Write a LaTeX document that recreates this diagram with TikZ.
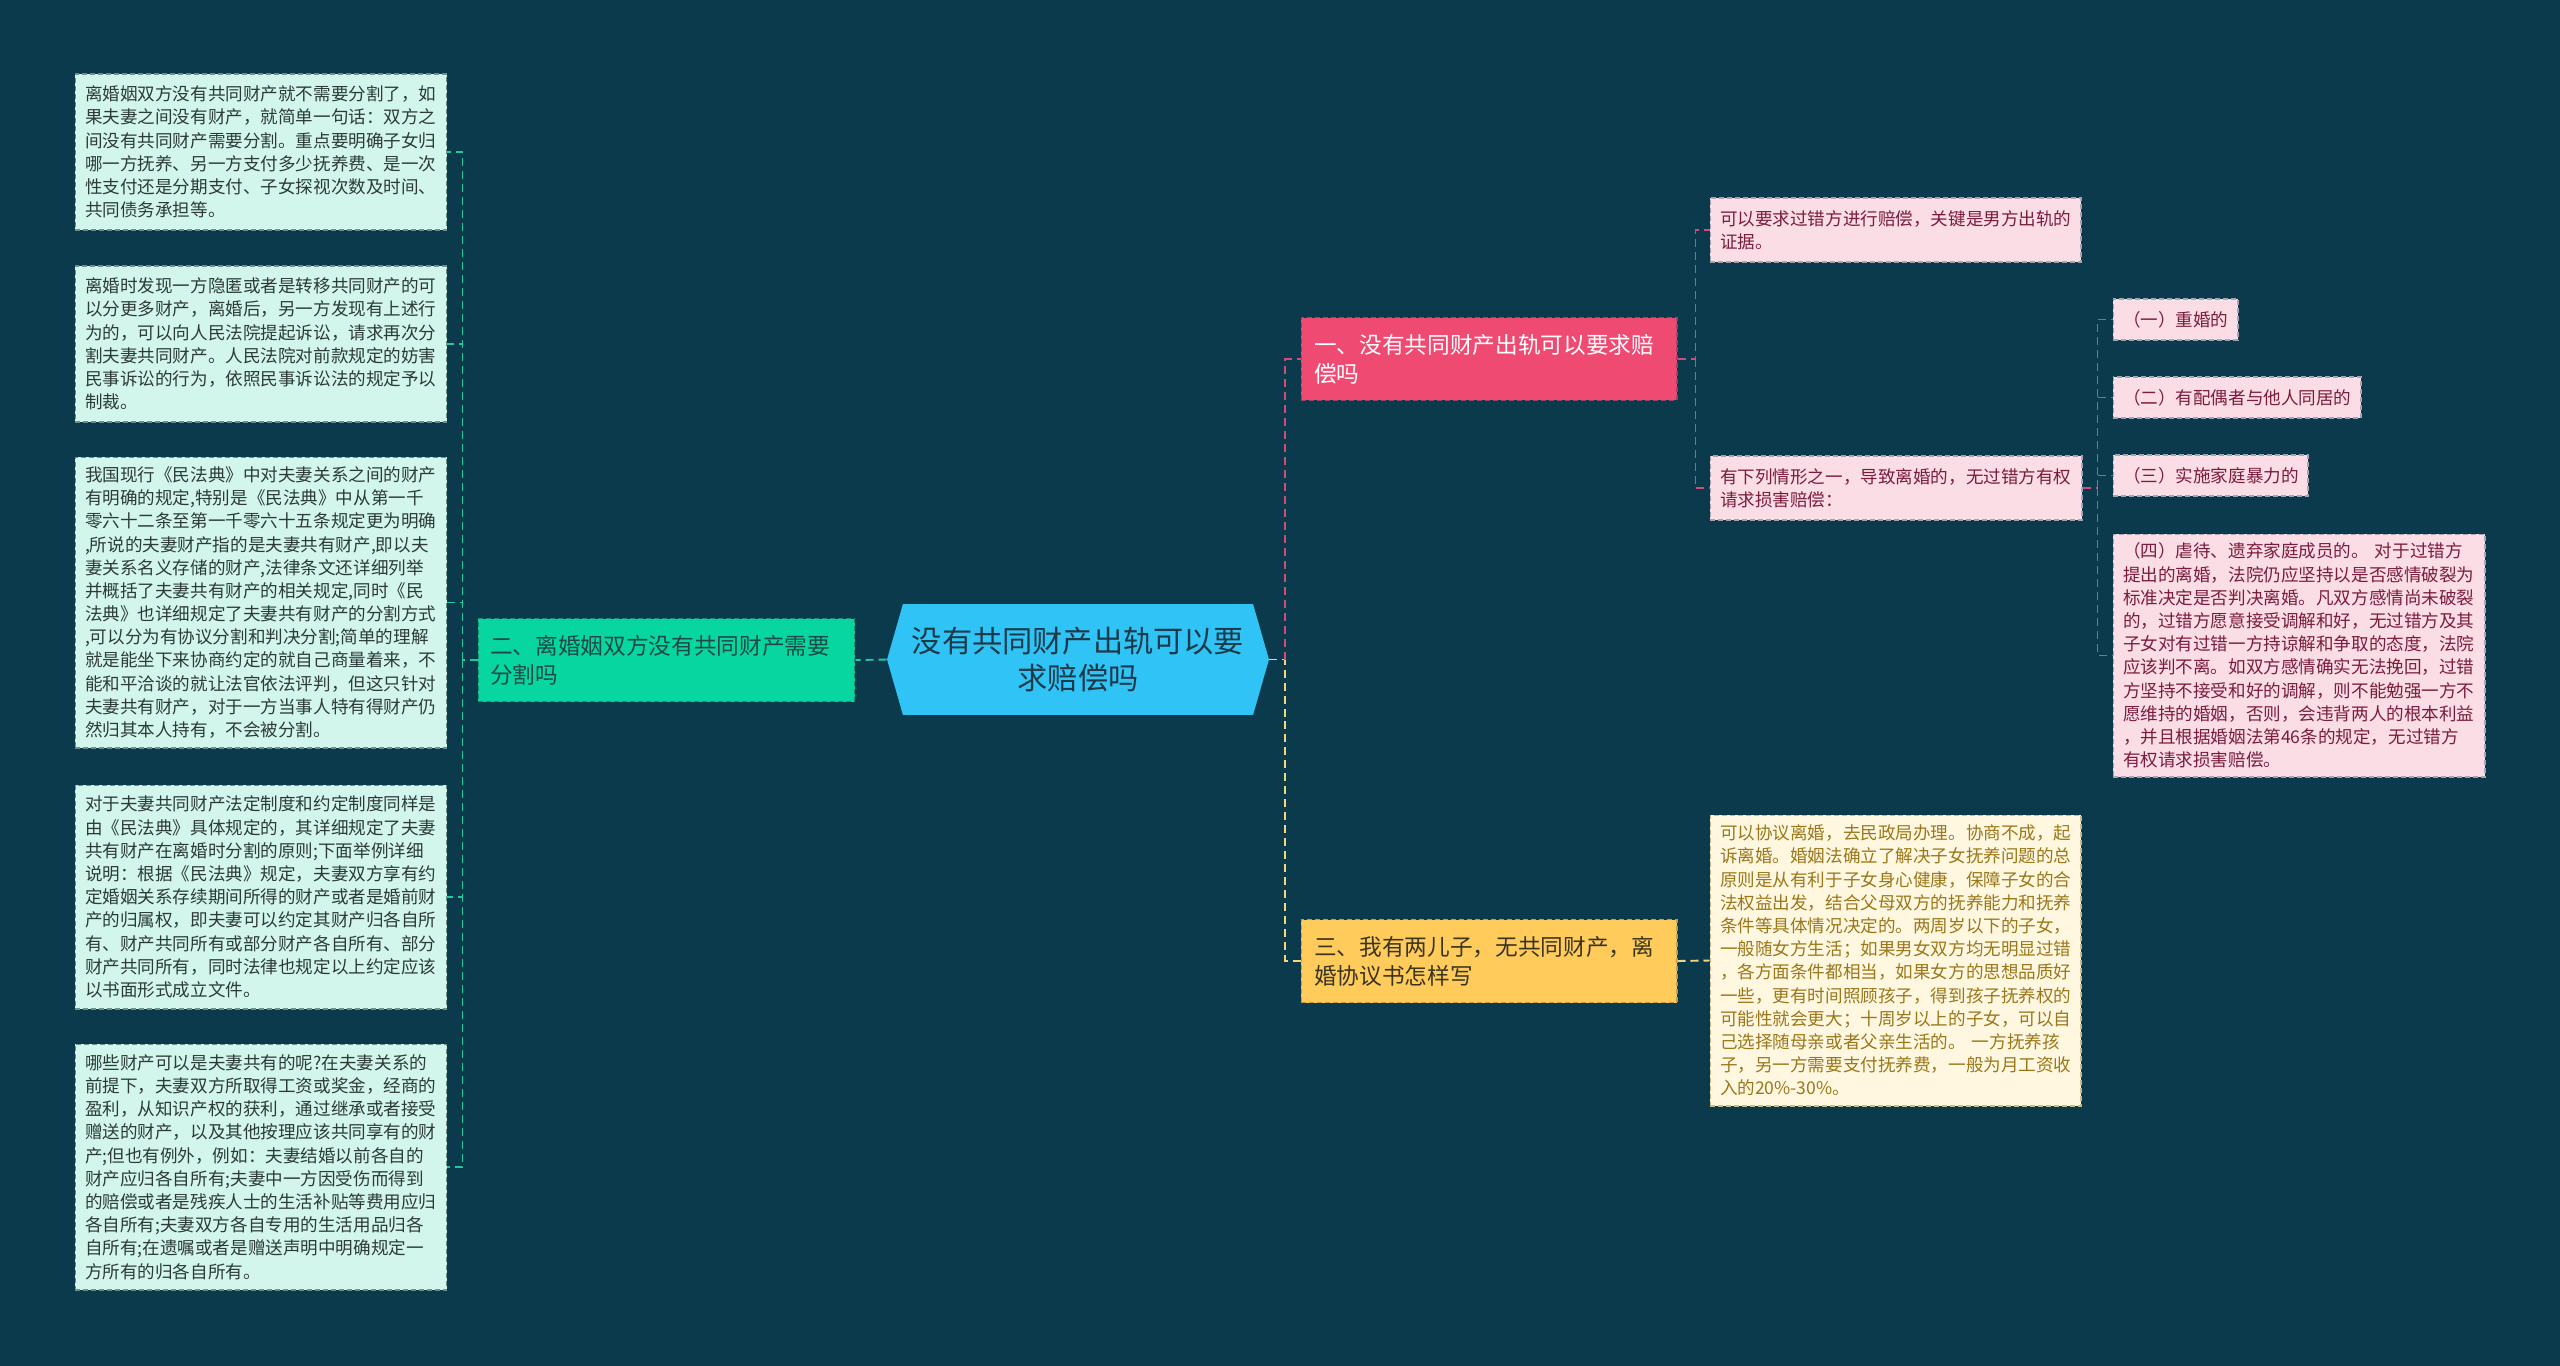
\documentclass[tikz,border=0pt]{standalone}
\usepackage{fontspec}
\newfontfamily\cjk{Noto Sans CJK SC}
\usepackage{tikz}
\usetikzlibrary{shapes.symbols,positioning}
\definecolor{bg}{HTML}{0A3A4B}
\definecolor{rootfill}{HTML}{2FC4F5}
\definecolor{roottext}{HTML}{1D3A4A}
\definecolor{greenfill}{HTML}{07D6A0}
\definecolor{greenline}{HTML}{20C99E}
\definecolor{greentext}{HTML}{1E4A46}
\definecolor{mintfill}{HTML}{D3F6EC}
\definecolor{mintline}{HTML}{6E8F8A}
\definecolor{minttext}{HTML}{2C3A3A}
\definecolor{redfill}{HTML}{EE4A72}
\definecolor{redline}{HTML}{D24C78}
\definecolor{pinkfill}{HTML}{FBDDE5}
\definecolor{pinkline}{HTML}{A8A3B3}
\definecolor{pinktext}{HTML}{7A1C3E}
\definecolor{yellowfill}{HTML}{FFCC5C}
\definecolor{yellowline}{HTML}{F3D77A}
\definecolor{yellowtext}{HTML}{3B3520}
\definecolor{creamfill}{HTML}{FFF7E0}
\definecolor{creamline}{HTML}{C9B98C}
\definecolor{creamtext}{HTML}{9A7719}

\begin{document}
\begin{tikzpicture}[x=0.02cm, y=-0.02cm,
  every node/.style={font=\cjk},
  link/.style={dash pattern=on 0.16cm off 0.1cm, line width=1.1pt},
  rim/.style={dash pattern=on 0.1cm off 0.06cm, line width=0.6pt},
  leafbox/.style={rim, align=left, inner xsep=0.2cm, inner ysep=0pt, text width=7.04cm,
    font=\cjk\fontsize{10}{13.2}\selectfont},
  mintbox/.style={leafbox, draw=mintline, fill=mintfill, text=minttext},
  pinkbox/.style={leafbox, draw=pinkline, fill=pinkfill, text=pinktext},
  creambox/.style={leafbox, draw=creamline, fill=creamfill, text=creamtext},
  branchbox/.style={rim, align=left, inner xsep=0.26cm, inner ysep=0pt, text width=7cm,
    minimum height=1.66cm, font=\cjk\fontsize{12.9}{16.6}\selectfont},
  rootbox/.style={signal, signal to=west and east, signal pointer angle=148, fill=rootfill,
    text=roottext, align=center, minimum width=7.64cm, minimum height=2.22cm, inner sep=0pt,
    font=\cjk\fontsize{17.2}{21.6}\selectfont}
]
\fill[bg] (0,0) rectangle (2560,1366);

% centre
\node[rootbox] (root) at (1078,659.5) {没有共同财产出轨可以要\\求赔偿吗};

% branches
\node[branchbox, draw=redline!80!black, fill=redfill, text=white] (b1) at (1489,359) {一、没有共同财产出轨可以要求赔\\偿吗};
\node[branchbox, draw=greenline!70!black, fill=greenfill, text=greentext, inner xsep=0.24cm, text width=7.06cm] (b2) at (666.5,660) {二、离婚姻双方没有共同财产需要\\分割吗};
\node[branchbox, draw=yellowfill!75!black, fill=yellowfill, text=yellowtext] (b3) at (1489,961) {三、我有两儿子，无共同财产，离\\婚协议书怎样写};

% left leaves
\node[mintbox, minimum height=3.12cm] (la) at (261,152) {离婚姻双方没有共同财产就不需要分割了，如\\果夫妻之间没有财产，就简单一句话：双方之\\间没有共同财产需要分割。重点要明确子女归\\哪一方抚养、另一方支付多少抚养费、是一次\\性支付还是分期支付、子女探视次数及时间、\\共同债务承担等。};
\node[mintbox, minimum height=3.12cm] (lb) at (261,344) {离婚时发现一方隐匿或者是转移共同财产的可\\以分更多财产，离婚后，另一方发现有上述行\\为的，可以向人民法院提起诉讼，请求再次分\\割夫妻共同财产。人民法院对前款规定的妨害\\民事诉讼的行为，依照民事诉讼法的规定予以\\制裁。};
\node[mintbox, minimum height=5.82cm] (lc) at (261,602.5) {我国现行《民法典》中对夫妻关系之间的财产\\有明确的规定,特别是《民法典》中从第一千\\零六十二条至第一千零六十五条规定更为明确\\,所说的夫妻财产指的是夫妻共有财产,即以夫\\妻关系名义存储的财产,法律条文还详细列举\\并概括了夫妻共有财产的相关规定,同时《民\\法典》也详细规定了夫妻共有财产的分割方式\\,可以分为有协议分割和判决分割;简单的理解\\就是能坐下来协商约定的就自己商量着来，不\\能和平洽谈的就让法官依法评判，但这只针对\\夫妻共有财产，对于一方当事人特有得财产仍\\然归其本人持有，不会被分割。};
\node[mintbox, minimum height=4.48cm] (ld) at (261,897) {对于夫妻共同财产法定制度和约定制度同样是\\由《民法典》具体规定的，其详细规定了夫妻\\共有财产在离婚时分割的原则;下面举例详细\\说明：根据《民法典》规定，夫妻双方享有约\\定婚姻关系存续期间所得的财产或者是婚前财\\产的归属权，即夫妻可以约定其财产归各自所\\有、财产共同所有或部分财产各自所有、部分\\财产共同所有，同时法律也规定以上约定应该\\以书面形式成立文件。};
\node[mintbox, minimum height=4.92cm] (le) at (261,1167) {哪些财产可以是夫妻共有的呢?在夫妻关系的\\前提下，夫妻双方所取得工资或奖金，经商的\\盈利，从知识产权的获利，通过继承或者接受\\赠送的财产，以及其他按理应该共同享有的财\\产;但也有例外，例如：夫妻结婚以前各自的\\财产应归各自所有;夫妻中一方因受伤而得到\\的赔偿或者是残疾人士的生活补贴等费用应归\\各自所有;夫妻双方各自专用的生活用品归各\\自所有;在遗嘱或者是赠送声明中明确规定一\\方所有的归各自所有。};

% right leaves
\node[pinkbox, minimum height=1.28cm, text width=7.02cm] (r1a) at (1895.5,230) {可以要求过错方进行赔偿，关键是男方出轨的\\证据。};
\node[pinkbox, minimum height=1.28cm] (r1b) at (1896,488) {有下列情形之一，导致离婚的，无过错方有权\\请求损害赔偿：};
\node[pinkbox, minimum height=0.82cm, text width=2.1cm] (s1) at (2175.5,319.5) {（一）重婚的};
\node[pinkbox, minimum height=0.82cm, text width=4.56cm] (s2) at (2237,397.5) {（二）有配偶者与他人同居的};
\node[pinkbox, minimum height=0.82cm, text width=3.5cm] (s3) at (2210.5,475.5) {（三）实施家庭暴力的};
\node[pinkbox, minimum height=4.86cm] (s4) at (2299,655.5) {（四）虐待、遗弃家庭成员的。 对于过错方\\提出的离婚，法院仍应坚持以是否感情破裂为\\标准决定是否判决离婚。凡双方感情尚未破裂\\的，过错方愿意接受调解和好，无过错方及其\\子女对有过错一方持谅解和争取的态度，法院\\应该判不离。如双方感情确实无法挽回，过错\\方坚持不接受和好的调解，则不能勉强一方不\\愿维持的婚姻，否则，会违背两人的根本利益\\，并且根据婚姻法第46条的规定，无过错方\\有权请求损害赔偿。};
\node[creambox, minimum height=5.82cm, text width=7.02cm] (r3a) at (1895.5,960.5) {可以协议离婚，去民政局办理。协商不成，起\\诉离婚。婚姻法确立了解决子女抚养问题的总\\原则是从有利于子女身心健康，保障子女的合\\法权益出发，结合父母双方的抚养能力和抚养\\条件等具体情况决定的。两周岁以下的子女，\\一般随女方生活；如果男女双方均无明显过错\\，各方面条件都相当，如果女方的思想品质好\\一些，更有时间照顾孩子，得到孩子抚养权的\\可能性就会更大；十周岁以上的子女，可以自\\己选择随母亲或者父亲生活的。 一方抚养孩\\子，另一方需要支付抚养费，一般为月工资收\\入的20\%-30\%。};

% connectors
\coordinate (jl) at ([xshift=-0.3cm]b2.west);
\coordinate (jr) at ([xshift=0.32cm]root.east);
\coordinate (j1) at ([xshift=0.36cm]b1.east);
\coordinate (j2) at ([xshift=0.3cm]r1b.east);
\draw[link, greenline] (root.west) -- (b2.east);
\draw[link, greenline] (b2.west) -- (jl);
\foreach \leaf in {la,lb,lc,ld,le}
  \draw[link, greenline] (jl) |- (\leaf.east);
\draw[link, yellowline] (root.east) -- (jr) |- (b3.west);
\draw[link, redline] (jr) |- (b1.west);
\draw[link, redline] (b1.east) -- (j1) |- (r1a.west);
\draw[link, redline] (j1) |- (r1b.west);
\draw[link, redline] (r1b.east) -- (j2);
\foreach \leaf in {s1,s2,s3,s4}
  \draw[link, redline] (j2) |- (\leaf.west);
\draw[link, yellowline] (b3.east) -- (r3a.west);
\end{tikzpicture}
\end{document}
